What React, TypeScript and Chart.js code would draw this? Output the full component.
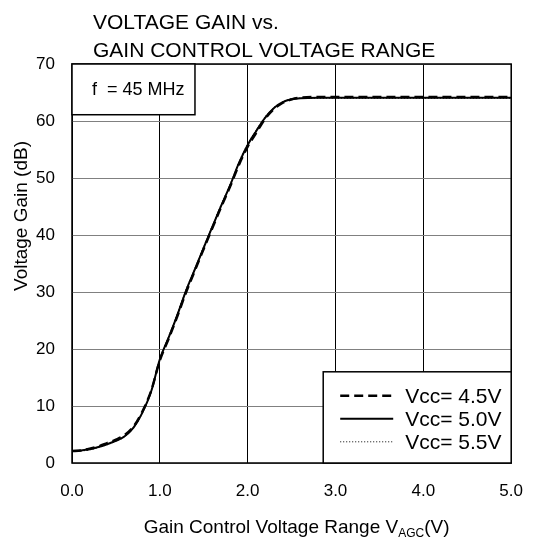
import React, { useEffect, useRef } from "react";
import { Chart, registerables } from "chart.js";

Chart.register(...registerables);

// ---- data ----
const VAGC = [0, 0.1, 0.2, 0.3, 0.4, 0.5, 0.6, 0.7, 0.8, 0.9, 1.0, 1.1, 1.2, 1.3, 1.4, 1.5, 1.6, 1.7, 1.8, 1.9, 2.0, 2.1, 2.2, 2.3, 2.4, 2.5, 2.6, 2.8, 3.0, 3.5, 4.0, 4.5, 5.0];
const GAIN_45 = [2.1, 2.2, 2.5, 2.9, 3.5, 4.1, 4.9, 6.4, 9.0, 12.6, 18.0, 21.8, 25.8, 30.0, 33.8, 37.6, 41.3, 45.0, 48.5, 52.3, 55.5, 58.0, 60.4, 62.1, 63.2, 63.8, 64.1, 64.2, 64.2, 64.2, 64.2, 64.2, 64.2];
const GAIN_50 = [2.1, 2.2, 2.4, 2.8, 3.3, 3.9, 4.7, 6.2, 8.8, 12.5, 18.2, 22.0, 26.0, 30.3, 34.0, 37.8, 41.5, 45.2, 48.7, 52.6, 55.8, 58.3, 60.6, 62.3, 63.3, 63.8, 64.0, 64.1, 64.1, 64.1, 64.1, 64.1, 64.1];
const GAIN_55 = [2.0, 2.1, 2.3, 2.7, 3.2, 3.8, 4.6, 6.1, 8.7, 12.4, 18.3, 22.2, 26.2, 30.5, 34.2, 38.0, 41.7, 45.4, 48.9, 52.8, 56.0, 58.5, 60.8, 62.4, 63.4, 63.9, 64.0, 64.0, 64.0, 64.0, 64.0, 64.0, 64.0];
const SERIES_LABELS = ["Vcc= 4.5V", "Vcc= 5.0V", "Vcc= 5.5V"];
const TITLE_LINES = ["VOLTAGE GAIN vs.", "GAIN CONTROL VOLTAGE RANGE"];
const NOTE = "f  = 45 MHz";
const X_TITLE = ["Gain Control Voltage Range V", "AGC", "(V)"];
const Y_TITLE = "Voltage Gain (dB)";
const X_MIN = 0, X_MAX = 5, X_STEP = 1;
const Y_MIN = 0, Y_MAX = 70, Y_STEP = 10;

const FONT = "'Liberation Sans', Arial, sans-serif";

const toXY = (ys: number[]) => VAGC.map((x, i) => ({ x, y: ys[i] }));

const decor = {
  id: "decor",
  afterDraw(chart: any) {
    const ctx = chart.ctx;
    const a = chart.chartArea;
    const xs = chart.scales.x;
    const ys = chart.scales.y;
    ctx.save();

    // plot border
    ctx.strokeStyle = "#000";
    ctx.lineWidth = 1.5;
    ctx.strokeRect(a.left, a.top, a.right - a.left, a.bottom - a.top);

    // note box (top-left)
    const nx0 = a.left, ny0 = a.top, nx1 = xs.getPixelForValue(1.4), ny1 = ys.getPixelForValue(61.1);
    ctx.fillStyle = "#fff";
    ctx.fillRect(nx0, ny0, nx1 - nx0, ny1 - ny0);
    ctx.strokeRect(nx0, ny0, nx1 - nx0, ny1 - ny0);
    ctx.fillStyle = "#000";
    ctx.font = `18px ${FONT}`;
    ctx.textAlign = "left";
    ctx.textBaseline = "middle";
    ctx.fillText(NOTE, nx0 + 20, (ny0 + ny1) / 2 + 1);

    // legend box (bottom-right)
    const lx0 = xs.getPixelForValue(2.86), lx1 = a.right;
    const ly0 = ys.getPixelForValue(16.0), ly1 = a.bottom;
    ctx.fillStyle = "#fff";
    ctx.fillRect(lx0, ly0, lx1 - lx0, ly1 - ly0);
    ctx.strokeRect(lx0, ly0, lx1 - lx0, ly1 - ly0);
    const dsets = chart.data.datasets;
    ctx.font = `21px ${FONT}`;
    ctx.textBaseline = "middle";
    for (let i = 0; i < dsets.length; i++) {
      const ds = dsets[i];
      const cy = ly0 + 24 + i * 23;
      ctx.beginPath();
      ctx.strokeStyle = ds.borderColor;
      ctx.lineWidth = ds.borderWidth;
      ctx.setLineDash(ds.borderDash || []);
      ctx.moveTo(lx0 + 17, cy);
      ctx.lineTo(lx0 + 70, cy);
      ctx.stroke();
      ctx.setLineDash([]);
      ctx.fillStyle = "#000";
      ctx.fillText(ds.label, lx0 + 82, cy + 1);
    }

    // title
    ctx.fillStyle = "#000";
    ctx.font = `21px ${FONT}`;
    ctx.textAlign = "left";
    ctx.textBaseline = "alphabetic";
    ctx.fillText(TITLE_LINES[0], 93, 29);
    ctx.fillText(TITLE_LINES[1], 93, 57);

    // x axis title with subscript
    const mainF = `19px ${FONT}`;
    const subF = `12px ${FONT}`;
    ctx.font = mainF;
    const w1 = ctx.measureText(X_TITLE[0]).width;
    const w3 = ctx.measureText(X_TITLE[2]).width;
    ctx.font = subF;
    const w2 = ctx.measureText(X_TITLE[1]).width;
    const total = w1 + w2 + w3;
    let tx = (a.left + a.right) / 2 - total / 2 + 5;
    const by = 533;
    ctx.font = mainF;
    ctx.fillText(X_TITLE[0], tx, by);
    tx += w1;
    ctx.font = subF;
    ctx.fillText(X_TITLE[1], tx, by + 4);
    tx += w2;
    ctx.font = mainF;
    ctx.fillText(X_TITLE[2], tx, by);

    // y axis title
    ctx.save();
    ctx.translate(22, 216);
    ctx.rotate(-Math.PI / 2);
    ctx.font = `19px ${FONT}`;
    ctx.textAlign = "center";
    ctx.textBaseline = "middle";
    ctx.fillText(Y_TITLE, 0, 0);
    ctx.restore();

    ctx.restore();
  },
};

export default function App() {
  const ref = useRef<HTMLCanvasElement | null>(null);
  useEffect(() => {
    if (!ref.current) return;
    const chart = new Chart(ref.current, {
      type: "line",
      data: {
        datasets: [
          { label: SERIES_LABELS[0], data: toXY(GAIN_45), borderColor: "#000", borderWidth: 2.5, borderDash: [9, 5], pointRadius: 0, fill: false, cubicInterpolationMode: "monotone" },
          { label: SERIES_LABELS[1], data: toXY(GAIN_50), borderColor: "#000", borderWidth: 2, pointRadius: 0, fill: false, cubicInterpolationMode: "monotone" },
          { label: SERIES_LABELS[2], data: toXY(GAIN_55), borderColor: "#000", borderWidth: 1, borderDash: [1, 2], pointRadius: 0, fill: false, cubicInterpolationMode: "monotone" },
        ] as any,
      },
      options: {
        animation: false,
        responsive: false,
        devicePixelRatio: 1,
        layout: { padding: { top: 64, right: 12, left: 0, bottom: 0 } },
        plugins: { legend: { display: false }, title: { display: false }, tooltip: { enabled: false } },
        scales: {
          x: {
            type: "linear",
            min: X_MIN,
            max: X_MAX,
            afterFit: (s: any) => { s.height = 77; },
            ticks: { stepSize: X_STEP, color: "#000", font: { family: FONT, size: 17 }, padding: 18, maxRotation: 0, callback: (v: any) => Number(v).toFixed(1) },
            grid: { color: "#000", lineWidth: 1, drawTicks: false },
            border: { display: false },
          },
          y: {
            min: Y_MIN,
            max: Y_MAX,
            afterFit: (s: any) => { s.width = 72; },
            ticks: { stepSize: Y_STEP, color: "#000", font: { family: FONT, size: 17 }, padding: 17 },
            grid: { color: "#808080", lineWidth: 1, drawTicks: false },
            border: { display: false },
          },
        },
      } as any,
      plugins: [decor],
    });
    return () => chart.destroy();
  }, []);
  return (
    <div style={{ position: "fixed", left: 0, top: 0, width: 541, height: 540, background: "#fff" }}>
      <canvas ref={ref} width={541} height={540} style={{ display: "block", width: 541, height: 540 }} />
    </div>
  );
}
